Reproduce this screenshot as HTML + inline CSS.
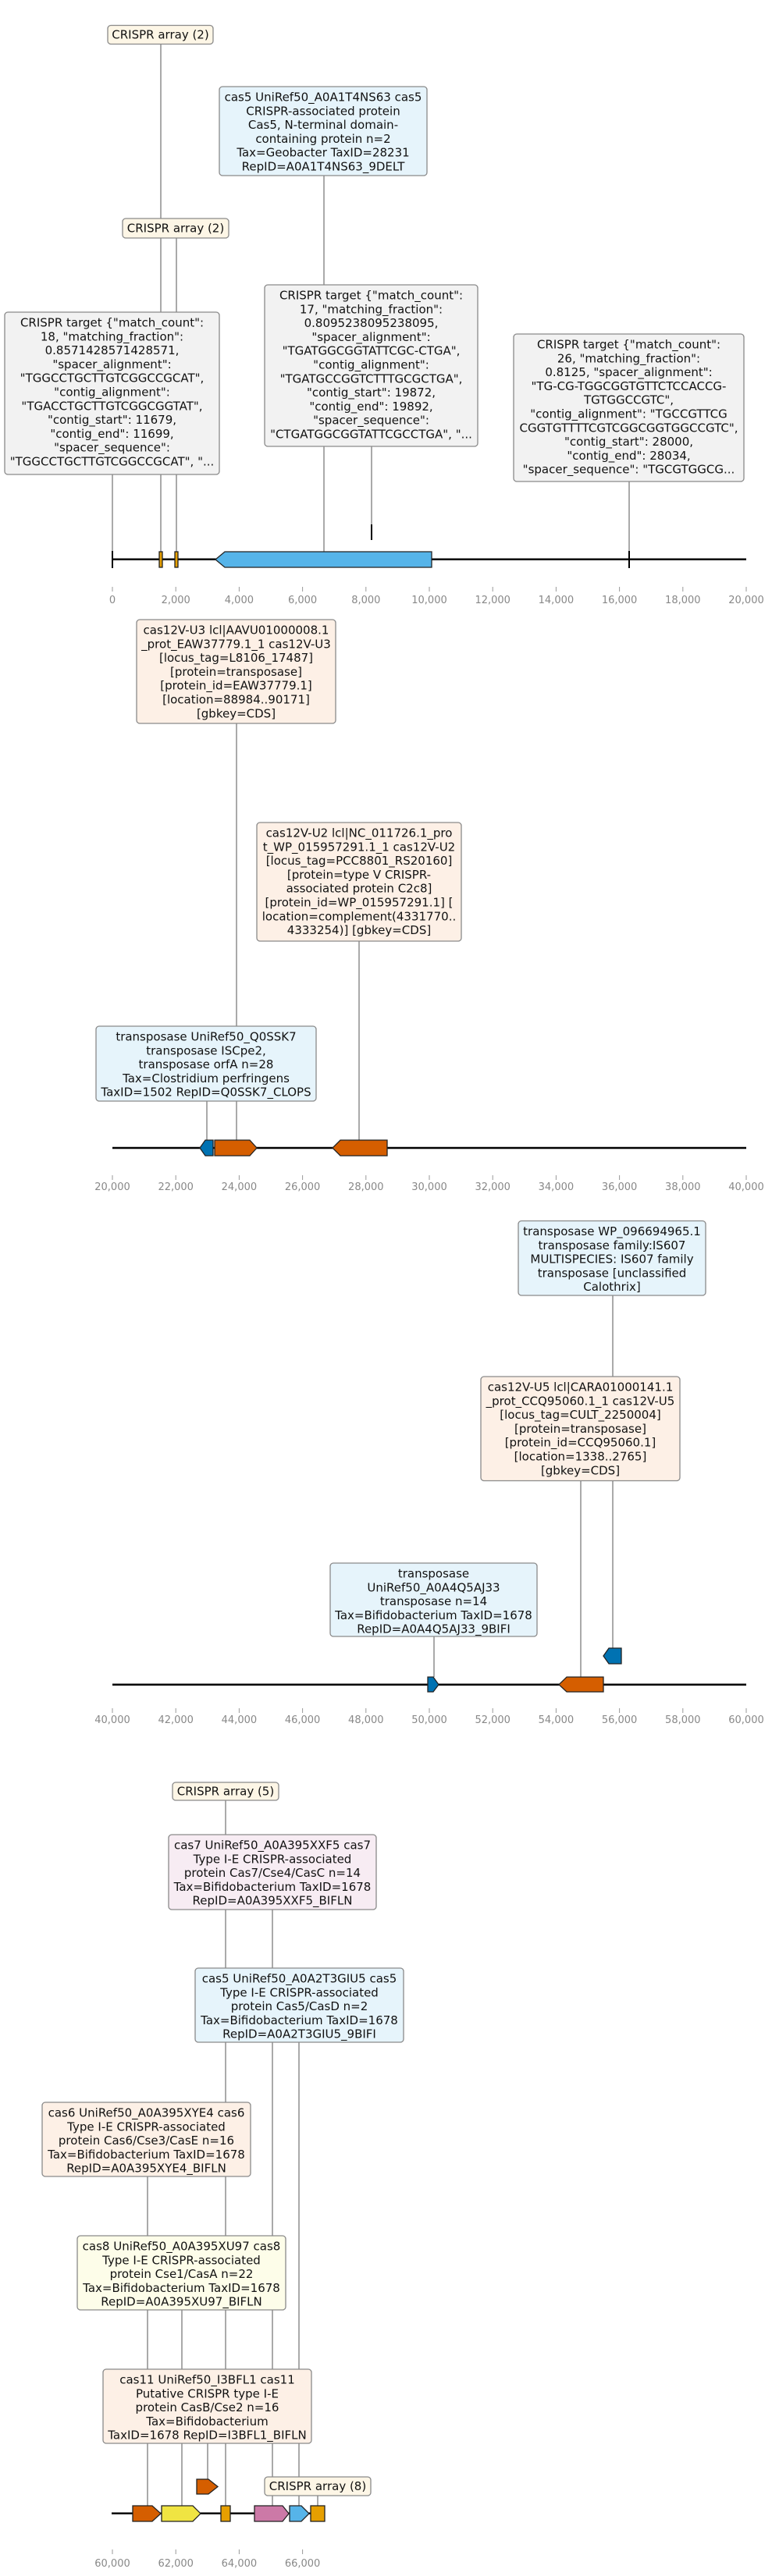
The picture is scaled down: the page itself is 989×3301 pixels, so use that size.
<!DOCTYPE html>
<html><head><meta charset="utf-8"><style>
html,body{margin:0;padding:0;background:#fff;}
svg{display:block;}
text{font-family:"DejaVu Sans","Liberation Sans",sans-serif;font-size:15px;fill:#111;}
.t{font-size:13px;fill:#888;}
.bx{stroke:#8a8a8a;stroke-width:1.3;}
.ln{stroke:#555;stroke-width:1;}
.bb{stroke:#000;stroke-width:2.5;}
.f{stroke:#222;stroke-width:1.3;}
.tk{stroke:#999;stroke-width:1;}
</style></head><body>
<svg width="989" height="3301" viewBox="0 0 989 3301" xmlns="http://www.w3.org/2000/svg">
<!-- ===== Section 1 ===== -->
<line class="ln" x1="144" y1="608" x2="144" y2="707"/>
<line class="ln" x1="206" y1="56" x2="206" y2="707"/>
<line class="ln" x1="226" y1="305" x2="226" y2="707"/>
<line class="ln" x1="415" y1="225" x2="415" y2="708"/>
<line class="ln" x1="476" y1="572" x2="476" y2="672"/>
<line class="ln" x1="806" y1="617" x2="806" y2="707"/>
<line class="bb" x1="144" y1="716.7" x2="956" y2="716.7"/>
<line stroke="#000" stroke-width="2" x1="144" y1="706" x2="144" y2="728"/>
<line stroke="#000" stroke-width="2" x1="476" y1="672" x2="476" y2="692"/>
<line stroke="#000" stroke-width="2" x1="806" y1="706" x2="806" y2="728"/>
<polygon class="f" fill="#56B4E9" points="553,707 288,707 276,717 288,727 553,727"/>
<rect class="f" fill="#E69F00" x="204" y="707" width="4" height="20"/>
<rect class="f" fill="#E69F00" x="224" y="707" width="4" height="20"/>
<g class="tk">
<line x1="144" y1="752" x2="144" y2="758"/><line x1="225.2" y1="752" x2="225.2" y2="758"/><line x1="306.4" y1="752" x2="306.4" y2="758"/><line x1="387.6" y1="752" x2="387.6" y2="758"/><line x1="468.8" y1="752" x2="468.8" y2="758"/><line x1="550" y1="752" x2="550" y2="758"/><line x1="631.2" y1="752" x2="631.2" y2="758"/><line x1="712.4" y1="752" x2="712.4" y2="758"/><line x1="793.6" y1="752" x2="793.6" y2="758"/><line x1="874.8" y1="752" x2="874.8" y2="758"/><line x1="956" y1="752" x2="956" y2="758"/>
</g>
<g class="t" text-anchor="middle">
<text class="t" x="144" y="773">0</text><text class="t" x="225.2" y="773">2,000</text><text class="t" x="306.4" y="773">4,000</text><text class="t" x="387.6" y="773">6,000</text><text class="t" x="468.8" y="773">8,000</text><text class="t" x="550" y="773">10,000</text><text class="t" x="631.2" y="773">12,000</text><text class="t" x="712.4" y="773">14,000</text><text class="t" x="793.6" y="773">16,000</text><text class="t" x="874.8" y="773">18,000</text><text class="t" x="956" y="773">20,000</text>
</g>

<rect class="bx" fill="#fdf6e6" x="138" y="32.5" width="135" height="24" rx="4"/>
<text x="205.5" y="49.5" text-anchor="middle">CRISPR array (2)</text>

<rect class="bx" fill="#e6f4fb" x="281" y="111" width="266" height="114" rx="4"/>
<text text-anchor="middle" y="129.5"><tspan x="414" >cas5 UniRef50_A0A1T4NS63 cas5</tspan><tspan x="414" dy="17.8">CRISPR-associated protein</tspan><tspan x="414" dy="17.8">Cas5, N-terminal domain-</tspan><tspan x="414" dy="17.8">containing protein n=2</tspan><tspan x="414" dy="17.8">Tax=Geobacter TaxID=28231</tspan><tspan x="414" dy="17.8">RepID=A0A1T4NS63_9DELT</tspan></text>

<rect class="bx" fill="#fdf6e6" x="157" y="280" width="136" height="25" rx="4"/>
<text x="225" y="297.5" text-anchor="middle">CRISPR array (2)</text>

<rect class="bx" fill="#f2f2f2" x="6" y="400" width="275" height="208" rx="4"/>
<text text-anchor="middle" y="418.5"><tspan x="143.5">CRISPR target {"match_count":</tspan><tspan x="143.5" dy="17.8">18, "matching_fraction":</tspan><tspan x="143.5" dy="17.8">0.8571428571428571,</tspan><tspan x="143.5" dy="17.8">"spacer_alignment":</tspan><tspan x="143.5" dy="17.8">"TGGCCTGCTTGTCGGCCGCAT",</tspan><tspan x="143.5" dy="17.8">"contig_alignment":</tspan><tspan x="143.5" dy="17.8">"TGACCTGCTTGTCGGCGGTAT",</tspan><tspan x="143.5" dy="17.8">"contig_start": 11679,</tspan><tspan x="143.5" dy="17.8">"contig_end": 11699,</tspan><tspan x="143.5" dy="17.8">"spacer_sequence":</tspan><tspan x="143.5" dy="17.8">"TGGCCTGCTTGTCGGCCGCAT", "...</tspan></text>

<rect class="bx" fill="#f2f2f2" x="339" y="365" width="273" height="207" rx="4"/>
<text text-anchor="middle" y="383.5"><tspan x="475.5">CRISPR target {"match_count":</tspan><tspan x="475.5" dy="17.8">17, "matching_fraction":</tspan><tspan x="475.5" dy="17.8">0.8095238095238095,</tspan><tspan x="475.5" dy="17.8">"spacer_alignment":</tspan><tspan x="475.5" dy="17.8">"TGATGGCGGTATTCGC-CTGA",</tspan><tspan x="475.5" dy="17.8">"contig_alignment":</tspan><tspan x="475.5" dy="17.8">"TGATGCCGGTCTTTGCGCTGA",</tspan><tspan x="475.5" dy="17.8">"contig_start": 19872,</tspan><tspan x="475.5" dy="17.8">"contig_end": 19892,</tspan><tspan x="475.5" dy="17.8">"spacer_sequence":</tspan><tspan x="475.5" dy="17.8">"CTGATGGCGGTATTCGCCTGA", "...</tspan></text>

<rect class="bx" fill="#f2f2f2" x="658" y="428" width="295" height="189" rx="4"/>
<text text-anchor="middle" y="446.5"><tspan x="805.5">CRISPR target {"match_count":</tspan><tspan x="805.5" dy="17.8">26, "matching_fraction":</tspan><tspan x="805.5" dy="17.8">0.8125, "spacer_alignment":</tspan><tspan x="805.5" dy="17.8">"TG-CG-TGGCGGTGTTCTCCACCG-</tspan><tspan x="805.5" dy="17.8">TGTGGCCGTC",</tspan><tspan x="805.5" dy="17.8">"contig_alignment": "TGCCGTTCG</tspan><tspan x="805.5" dy="17.8">CGGTGTTTTCGTCGGCGGTGGCCGTC",</tspan><tspan x="805.5" dy="17.8">"contig_start": 28000,</tspan><tspan x="805.5" dy="17.8">"contig_end": 28034,</tspan><tspan x="805.5" dy="17.8">"spacer_sequence": "TGCGTGGCG...</tspan></text>

<!-- ===== Section 2 ===== -->
<line class="ln" x1="303" y1="927" x2="303" y2="1462"/>
<line class="ln" x1="460" y1="1206" x2="460" y2="1462"/>
<line class="ln" x1="265" y1="1411" x2="265" y2="1462"/>
<line class="bb" x1="144" y1="1471" x2="956" y2="1471"/>
<polygon class="f" fill="#0072B2" points="273,1461 263,1461 256,1471 263,1481 273,1481"/>
<polygon class="f" fill="#D55E00" points="275,1461 320,1461 329,1471 320,1481 275,1481"/>
<polygon class="f" fill="#D55E00" points="496,1461 436,1461 426,1471 436,1481 496,1481"/>
<g class="tk">
<line x1="144" y1="1506" x2="144" y2="1512"/><line x1="225.2" y1="1506" x2="225.2" y2="1512"/><line x1="306.4" y1="1506" x2="306.4" y2="1512"/><line x1="387.6" y1="1506" x2="387.6" y2="1512"/><line x1="468.8" y1="1506" x2="468.8" y2="1512"/><line x1="550" y1="1506" x2="550" y2="1512"/><line x1="631.2" y1="1506" x2="631.2" y2="1512"/><line x1="712.4" y1="1506" x2="712.4" y2="1512"/><line x1="793.6" y1="1506" x2="793.6" y2="1512"/><line x1="874.8" y1="1506" x2="874.8" y2="1512"/><line x1="956" y1="1506" x2="956" y2="1512"/>
</g>
<g text-anchor="middle">
<text class="t" x="144" y="1525">20,000</text><text class="t" x="225.2" y="1525">22,000</text><text class="t" x="306.4" y="1525">24,000</text><text class="t" x="387.6" y="1525">26,000</text><text class="t" x="468.8" y="1525">28,000</text><text class="t" x="550" y="1525">30,000</text><text class="t" x="631.2" y="1525">32,000</text><text class="t" x="712.4" y="1525">34,000</text><text class="t" x="793.6" y="1525">36,000</text><text class="t" x="874.8" y="1525">38,000</text><text class="t" x="956" y="1525">40,000</text>
</g>

<rect class="bx" fill="#fdf0e6" x="175" y="794" width="255" height="133" rx="4"/>
<text text-anchor="middle" y="812.5"><tspan x="302.5">cas12V-U3 lcl|AAVU01000008.1</tspan><tspan x="302.5" dy="17.8">_prot_EAW37779.1_1 cas12V-U3</tspan><tspan x="302.5" dy="17.8">[locus_tag=L8106_17487]</tspan><tspan x="302.5" dy="17.8">[protein=transposase]</tspan><tspan x="302.5" dy="17.8">[protein_id=EAW37779.1]</tspan><tspan x="302.5" dy="17.8">[location=88984..90171]</tspan><tspan x="302.5" dy="17.8">[gbkey=CDS]</tspan></text>

<rect class="bx" fill="#fdf0e6" x="329" y="1054" width="262" height="152" rx="4"/>
<text text-anchor="middle" y="1072.5"><tspan x="460">cas12V-U2 lcl|NC_011726.1_pro</tspan><tspan x="460" dy="17.8">t_WP_015957291.1_1 cas12V-U2</tspan><tspan x="460" dy="17.8">[locus_tag=PCC8801_RS20160]</tspan><tspan x="460" dy="17.8">[protein=type V CRISPR-</tspan><tspan x="460" dy="17.8">associated protein C2c8]</tspan><tspan x="460" dy="17.8">[protein_id=WP_015957291.1] [</tspan><tspan x="460" dy="17.8">location=complement(4331770..</tspan><tspan x="460" dy="17.8">4333254)] [gbkey=CDS]</tspan></text>

<rect class="bx" fill="#e6f4fb" x="123" y="1315" width="282" height="96" rx="4"/>
<text text-anchor="middle" y="1333.5"><tspan x="264">transposase UniRef50_Q0SSK7</tspan><tspan x="264" dy="17.8">transposase ISCpe2,</tspan><tspan x="264" dy="17.8">transposase orfA n=28</tspan><tspan x="264" dy="17.8">Tax=Clostridium perfringens</tspan><tspan x="264" dy="17.8">TaxID=1502 RepID=Q0SSK7_CLOPS</tspan></text>

<!-- ===== Section 3 ===== -->
<line class="ln" x1="785" y1="1660" x2="785" y2="2112"/>
<line class="ln" x1="744" y1="1897" x2="744" y2="2149"/>
<line class="ln" x1="556" y1="2097" x2="556" y2="2149"/>
<line class="bb" x1="144" y1="2158.7" x2="956" y2="2158.7"/>
<polygon class="f" fill="#0072B2" points="796,2112 780,2112 773,2122 780,2132 796,2132"/>
<polygon class="f" fill="#0072B2" points="548,2149 555,2149 562,2158.7 555,2168 548,2168"/>
<polygon class="f" fill="#D55E00" points="773,2149 726,2149 716,2158.7 726,2168 773,2168"/>
<g class="tk">
<line x1="144" y1="2189" x2="144" y2="2195"/><line x1="225.2" y1="2189" x2="225.2" y2="2195"/><line x1="306.4" y1="2189" x2="306.4" y2="2195"/><line x1="387.6" y1="2189" x2="387.6" y2="2195"/><line x1="468.8" y1="2189" x2="468.8" y2="2195"/><line x1="550" y1="2189" x2="550" y2="2195"/><line x1="631.2" y1="2189" x2="631.2" y2="2195"/><line x1="712.4" y1="2189" x2="712.4" y2="2195"/><line x1="793.6" y1="2189" x2="793.6" y2="2195"/><line x1="874.8" y1="2189" x2="874.8" y2="2195"/><line x1="956" y1="2189" x2="956" y2="2195"/>
</g>
<g text-anchor="middle">
<text class="t" x="144" y="2208">40,000</text><text class="t" x="225.2" y="2208">42,000</text><text class="t" x="306.4" y="2208">44,000</text><text class="t" x="387.6" y="2208">46,000</text><text class="t" x="468.8" y="2208">48,000</text><text class="t" x="550" y="2208">50,000</text><text class="t" x="631.2" y="2208">52,000</text><text class="t" x="712.4" y="2208">54,000</text><text class="t" x="793.6" y="2208">56,000</text><text class="t" x="874.8" y="2208">58,000</text><text class="t" x="956" y="2208">60,000</text>
</g>

<rect class="bx" fill="#e6f4fb" x="664" y="1564.5" width="240" height="95.5" rx="4"/>
<text text-anchor="middle" y="1583"><tspan x="784">transposase WP_096694965.1</tspan><tspan x="784" dy="17.8">transposase family:IS607</tspan><tspan x="784" dy="17.8">MULTISPECIES: IS607 family</tspan><tspan x="784" dy="17.8">transposase [unclassified</tspan><tspan x="784" dy="17.8">Calothrix]</tspan></text>

<rect class="bx" fill="#fdf0e6" x="616" y="1764" width="255" height="133.5" rx="4"/>
<text text-anchor="middle" y="1782.5"><tspan x="743.5">cas12V-U5 lcl|CARA01000141.1</tspan><tspan x="743.5" dy="17.8">_prot_CCQ95060.1_1 cas12V-U5</tspan><tspan x="743.5" dy="17.8">[locus_tag=CULT_2250004]</tspan><tspan x="743.5" dy="17.8">[protein=transposase]</tspan><tspan x="743.5" dy="17.8">[protein_id=CCQ95060.1]</tspan><tspan x="743.5" dy="17.8">[location=1338..2765]</tspan><tspan x="743.5" dy="17.8">[gbkey=CDS]</tspan></text>

<rect class="bx" fill="#e6f4fb" x="423" y="2003" width="265" height="94" rx="4"/>
<text text-anchor="middle" y="2021.5"><tspan x="555.5">transposase</tspan><tspan x="555.5" dy="17.8">UniRef50_A0A4Q5AJ33</tspan><tspan x="555.5" dy="17.8">transposase n=14</tspan><tspan x="555.5" dy="17.8">Tax=Bifidobacterium TaxID=1678</tspan><tspan x="555.5" dy="17.8">RepID=A0A4Q5AJ33_9BIFI</tspan></text>

<!-- ===== Section 4 ===== -->
<line class="ln" x1="289" y1="2307" x2="289" y2="3211"/>
<line class="ln" x1="349" y1="2447" x2="349" y2="3211"/>
<line class="ln" x1="383" y1="2617" x2="383" y2="3211"/>
<line class="ln" x1="189" y1="2789" x2="189" y2="3211"/>
<line class="ln" x1="233" y1="2960" x2="233" y2="3211"/>
<line class="ln" x1="266" y1="3131" x2="266" y2="3177"/>
<line class="ln" x1="407" y1="3198" x2="407" y2="3211"/>
<line class="bb" x1="143" y1="3220.7" x2="398" y2="3220.7"/>
<polygon class="f" fill="#D55E00" points="170,3211 195,3211 206,3221 195,3231 170,3231"/>
<polygon class="f" fill="#F0E442" points="207,3211 247,3211 257,3221 247,3231 207,3231"/>
<rect class="f" fill="#E69F00" x="283" y="3211" width="12" height="20"/>
<polygon class="f" fill="#CC79A7" points="326,3211 362,3211 370,3221 362,3231 326,3231"/>
<polygon class="f" fill="#56B4E9" points="371,3211 386,3211 396,3221 386,3231 371,3231"/>
<rect class="f" fill="#E69F00" x="398" y="3211" width="18" height="20"/>
<polygon class="f" fill="#D55E00" points="252,3177 267,3177 279,3186.5 267,3196 252,3196"/>
<g class="tk">
<line x1="144" y1="3267" x2="144" y2="3273"/><line x1="225.2" y1="3267" x2="225.2" y2="3273"/><line x1="306.4" y1="3267" x2="306.4" y2="3273"/><line x1="387.6" y1="3267" x2="387.6" y2="3273"/>
</g>
<g text-anchor="middle">
<text class="t" x="144" y="3289">60,000</text><text class="t" x="225.2" y="3289">62,000</text><text class="t" x="306.4" y="3289">64,000</text><text class="t" x="387.6" y="3289">66,000</text>
</g>

<rect class="bx" fill="#fdf6e6" x="221" y="2284" width="136" height="23" rx="4"/>
<text x="289" y="2300.5" text-anchor="middle">CRISPR array (5)</text>

<rect class="bx" fill="#f7ecf3" x="216" y="2351" width="266" height="96" rx="4"/>
<text text-anchor="middle" y="2369.5"><tspan x="349">cas7 UniRef50_A0A395XXF5 cas7</tspan><tspan x="349" dy="17.8">Type I-E CRISPR-associated</tspan><tspan x="349" dy="17.8">protein Cas7/Cse4/CasC n=14</tspan><tspan x="349" dy="17.8">Tax=Bifidobacterium TaxID=1678</tspan><tspan x="349" dy="17.8">RepID=A0A395XXF5_BIFLN</tspan></text>

<rect class="bx" fill="#e6f4fb" x="250" y="2522" width="267" height="95" rx="4"/>
<text text-anchor="middle" y="2540.5"><tspan x="383.5">cas5 UniRef50_A0A2T3GIU5 cas5</tspan><tspan x="383.5" dy="17.8">Type I-E CRISPR-associated</tspan><tspan x="383.5" dy="17.8">protein Cas5/CasD n=2</tspan><tspan x="383.5" dy="17.8">Tax=Bifidobacterium TaxID=1678</tspan><tspan x="383.5" dy="17.8">RepID=A0A2T3GIU5_9BIFI</tspan></text>

<rect class="bx" fill="#fdf0e6" x="54" y="2694" width="267" height="95" rx="4"/>
<text text-anchor="middle" y="2712.5"><tspan x="187.5">cas6 UniRef50_A0A395XYE4 cas6</tspan><tspan x="187.5" dy="17.8">Type I-E CRISPR-associated</tspan><tspan x="187.5" dy="17.8">protein Cas6/Cse3/CasE n=16</tspan><tspan x="187.5" dy="17.8">Tax=Bifidobacterium TaxID=1678</tspan><tspan x="187.5" dy="17.8">RepID=A0A395XYE4_BIFLN</tspan></text>

<rect class="bx" fill="#fdfde9" x="99" y="2865" width="267" height="95" rx="4"/>
<text text-anchor="middle" y="2883.5"><tspan x="232.5">cas8 UniRef50_A0A395XU97 cas8</tspan><tspan x="232.5" dy="17.8">Type I-E CRISPR-associated</tspan><tspan x="232.5" dy="17.8">protein Cse1/CasA n=22</tspan><tspan x="232.5" dy="17.8">Tax=Bifidobacterium TaxID=1678</tspan><tspan x="232.5" dy="17.8">RepID=A0A395XU97_BIFLN</tspan></text>

<rect class="bx" fill="#fdf0e6" x="132" y="3036" width="267" height="95" rx="4"/>
<text text-anchor="middle" y="3054.5"><tspan x="265.5">cas11 UniRef50_I3BFL1 cas11</tspan><tspan x="265.5" dy="17.8">Putative CRISPR type I-E</tspan><tspan x="265.5" dy="17.8">protein CasB/Cse2 n=16</tspan><tspan x="265.5" dy="17.8">Tax=Bifidobacterium</tspan><tspan x="265.5" dy="17.8">TaxID=1678 RepID=I3BFL1_BIFLN</tspan></text>

<rect class="bx" fill="#fdf6e6" x="339" y="3174" width="136" height="24" rx="4"/>
<text x="407" y="3191" text-anchor="middle">CRISPR array (8)</text>
</svg>
</body></html>
